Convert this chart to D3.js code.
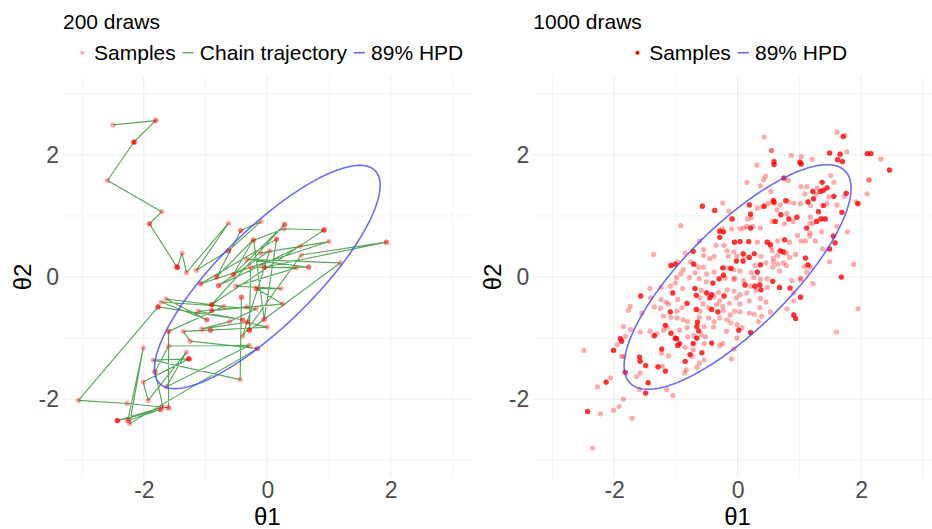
<!DOCTYPE html>
<html>
<head>
<meta charset="utf-8">
<script src="https://cdn.jsdelivr.net/npm/d3@7"></script>
<style>
  body { margin: 0; background: #ffffff; }
  text { font-family: "Liberation Sans", Arial, sans-serif; }
</style>
</head>
<body>
<svg id="chart" width="932" height="529"></svg>
<script>
// ---- data -------------------------------------------------------------
const panelTitles = ["200 draws", "1000 draws"];
const axisTicks = [-2, 0, 2];
const gridValues = [-3, -2, -1, 0, 1, 2, 3];
const xLimits = [-3.31, 3.31];
const yLimits = [-3.29, 3.29];
const xTitle = "θ1";
const yTitle = "θ2";
const legendLeft = ["Samples", "Chain trajectory", "89% HPD"];
const legendRight = ["Samples", "89% HPD"];

// 89% highest posterior density region of the bivariate normal
const hpdLevel = 0.89;
const hpdLeft = { mean: [0.0, 0.0], sd: [0.87, 0.87], rho: 0.82 };
const hpdRight = { mean: [0.0, 0.0], sd: [0.875, 0.875], rho: 0.79 };

// Metropolis chain, 200 draws: [theta1, theta2, consecutive draws at that state]
const chain200 = [
  [-2.50, 2.49, 1], [-1.81, 2.56, 2], [-2.16, 2.21, 4], [-2.59, 1.58, 1], [-1.71, 1.07, 1],
  [-1.91, 0.87, 2], [-1.46, 0.16, 4], [-1.38, 0.39, 1], [-1.31, 0.07, 1], [-0.63, 0.88, 1],
  [-1.15, 0.11, 1], [-0.63, 0.43, 2], [-0.10, 0.91, 1], [-0.43, 0.76, 2], [-0.82, 0.00, 2],
  [-0.23, 0.61, 1], [-0.55, 0.04, 2], [0.28, 0.86, 2], [-0.90, -0.45, 3], [0.92, 0.77, 3],
  [0.27, 0.79, 1], [-0.22, 0.60, 1], [-0.05, -0.69, 2], [0.15, 0.62, 2], [-1.08, -0.11, 2],
  [1.00, 0.58, 1], [-0.11, 0.39, 1], [0.53, 0.50, 1], [-0.79, -0.14, 2], [0.04, 0.43, 1],
  [-0.40, -0.97, 1], [0.55, 0.36, 1], [1.93, 0.57, 2], [-0.05, 0.16, 2], [0.67, 0.16, 2],
  [-0.33, 0.29, 1], [1.18, 0.23, 1], [-0.29, -0.87, 3], [-0.27, 0.16, 1], [0.47, 0.15, 1],
  [-0.51, -0.15, 1], [0.22, -0.19, 1], [-0.18, -0.19, 2], [0.25, -0.44, 1], [-0.90, -0.55, 2],
  [-0.33, -0.49, 1], [-1.12, -0.56, 1], [-0.40, -0.70, 2], [-1.77, -0.49, 3], [-3.06, -2.02, 1],
  [-2.27, -2.07, 1], [-1.60, -2.14, 2], [-1.60, -0.89, 2], [-0.70, -0.48, 1], [-1.64, -0.36, 1],
  [-0.98, -0.70, 2], [-1.72, -0.41, 1], [-0.18, -0.52, 1], [-0.61, -0.73, 1], [-1.06, -0.85, 1],
  [-0.32, -0.74, 2], [0.00, -0.82, 1], [-0.92, -0.87, 2], [-1.36, -0.89, 1], [-1.25, -1.05, 1],
  [-0.16, -1.17, 2], [-2.23, -2.40, 1], [-2.01, -1.16, 1], [-2.26, -2.35, 2], [-1.73, -2.17, 2],
  [-2.43, -2.35, 4], [-1.69, -2.13, 1], [-1.82, -1.55, 2], [-1.60, -1.13, 1], [-0.29, -1.12, 1],
  [-1.64, -1.80, 1], [-1.31, -1.23, 1], [-1.93, -2.02, 1], [-2.01, -1.72, 1], [-1.27, -1.34, 4],
  [-1.85, -1.36, 1], [-0.44, -1.68, 1], [-0.42, -0.33, 2]
];

// 1000 draws: [theta1, theta2, draws at that state]
const draws1000 = [
  [0.43, 2.29, 1], [1.61, 2.37, 1], [1.71, 2.30, 4], [1.74, 2.32, 1], [0.55, 2.07, 2],
  [1.49, 2.03, 4], [1.66, 2.01, 4], [1.77, 2.05, 1], [2.10, 2.02, 4], [2.16, 2.02, 4],
  [2.32, 1.93, 1], [2.46, 1.75, 4], [0.87, 1.99, 1], [1.03, 1.97, 1], [0.59, 1.89, 4],
  [0.59, 1.84, 4], [1.01, 1.88, 4], [1.03, 1.85, 4], [1.21, 1.93, 1], [0.31, 1.83, 1],
  [1.62, 1.92, 4], [1.70, 1.89, 4], [0.45, 1.65, 1], [0.42, 1.59, 1], [0.75, 1.62, 4],
  [0.82, 1.58, 1], [0.15, 1.55, 1], [0.37, 1.49, 1], [2.13, 1.60, 1], [2.13, 1.58, 1],
  [1.37, 1.55, 4], [1.56, 1.55, 1], [1.51, 1.66, 1], [1.29, 1.46, 1], [1.34, 1.40, 4],
  [1.39, 1.42, 4], [1.45, 1.46, 4], [1.22, 1.40, 4], [1.12, 1.48, 1], [1.03, 1.48, 1],
  [1.09, 1.36, 1], [1.48, 1.31, 1], [1.56, 1.32, 4], [1.76, 1.37, 4], [1.73, 1.32, 1],
  [0.54, 1.40, 1], [2.10, 1.36, 1], [1.92, 1.23, 1], [1.95, 1.20, 4], [-0.57, 1.16, 4],
  [-0.37, 1.09, 4], [-0.24, 1.21, 1], [-0.14, 1.08, 1], [0.19, 1.18, 4], [0.32, 1.13, 1],
  [0.40, 1.15, 1], [0.43, 1.16, 4], [0.50, 1.20, 1], [0.58, 1.25, 4], [0.59, 1.22, 4],
  [0.78, 1.25, 4], [0.83, 1.23, 1], [0.69, 1.18, 1], [0.91, 1.21, 1], [1.02, 1.20, 1],
  [1.14, 1.23, 4], [1.18, 1.17, 1], [1.23, 1.28, 4], [1.27, 1.35, 1], [1.39, 1.17, 4],
  [1.45, 1.20, 1], [1.61, 1.18, 1], [1.31, 1.07, 4], [1.69, 1.06, 4], [0.64, 1.10, 1],
  [0.70, 1.02, 4], [0.80, 1.04, 1], [0.83, 0.95, 4], [0.96, 0.98, 4], [0.90, 0.91, 1],
  [0.76, 0.87, 1], [1.18, 0.98, 1], [1.17, 0.88, 1], [1.28, 0.91, 4], [1.35, 0.95, 4],
  [1.42, 0.95, 4], [1.22, 0.88, 1], [0.21, 1.03, 4], [0.22, 0.97, 1], [0.16, 0.95, 1],
  [-0.09, 0.95, 4], [0.56, 0.91, 1], [0.61, 0.91, 4], [-0.92, 0.84, 1], [0.10, 0.80, 1],
  [0.15, 0.83, 1], [0.21, 0.80, 4], [0.37, 0.80, 1], [0.25, 0.83, 1], [0.04, 0.79, 1],
  [-0.25, 0.79, 1], [-0.10, 0.79, 1], [1.12, 0.80, 4], [1.61, 0.83, 1],
  [-0.29, 0.75, 4], [-0.23, 0.74, 4], [1.36, 0.74, 1], [1.78, 0.74, 1],
  [-0.62, 0.59, 1], [-0.29, 0.65, 4], [-0.05, 0.57, 4], [0.04, 0.58, 4], [0.18, 0.58, 4],
  [0.32, 0.57, 1], [-0.35, 0.52, 1], [-0.22, 0.52, 1], [0.48, 0.57, 4], [0.53, 0.53, 4],
  [0.54, 0.49, 1], [0.65, 0.59, 1], [0.76, 0.61, 4], [0.84, 0.57, 1], [0.97, 0.68, 1],
  [1.03, 0.59, 1], [1.10, 0.59, 1], [1.17, 0.67, 1], [1.26, 0.59, 1], [1.17, 0.72, 1],
  [1.55, 0.67, 4], [1.58, 0.56, 4], [1.49, 0.46, 4], [1.38, 0.46, 1],
  [-0.55, 0.45, 1], [-0.72, 0.42, 4], [-0.85, 0.39, 1], [-1.36, 0.37, 1], [-0.17, 0.43, 1],
  [-0.06, 0.41, 1], [0.09, 0.38, 4], [0.19, 0.32, 4], [0.27, 0.38, 4], [0.38, 0.34, 1],
  [0.56, 0.43, 1], [0.69, 0.43, 4], [0.74, 0.41, 4], [0.79, 0.39, 1], [0.84, 0.32, 1],
  [0.65, 0.35, 1], [0.58, 0.31, 1], [0.94, 0.37, 1], [-0.38, 0.34, 1], [-0.55, 0.35, 1],
  [-0.45, 0.30, 1], [-0.15, 0.34, 1], [-0.01, 0.34, 1],
  [-0.97, 0.25, 1], [-1.08, 0.19, 4], [-1.01, 0.21, 4], [-0.71, 0.21, 4], [-0.76, 0.25, 1],
  [-0.88, 0.12, 1], [-0.63, 0.16, 1], [-0.55, 0.16, 1], [-0.24, 0.15, 4], [-0.17, 0.15, 1],
  [-0.11, 0.14, 4], [-0.06, 0.12, 1], [-0.02, 0.26, 4], [0.09, 0.26, 4], [0.11, 0.34, 1],
  [0.28, 0.19, 1], [0.37, 0.20, 4], [0.46, 0.23, 1], [0.58, 0.25, 1], [0.65, 0.21, 1],
  [0.74, 0.23, 1], [0.79, 0.19, 1], [0.57, 0.16, 1], [0.68, 0.10, 1], [1.10, 0.31, 4],
  [1.14, 0.20, 4], [1.08, 0.17, 1], [1.18, 0.16, 1], [1.49, 0.25, 1], [1.88, 0.21, 1],
  [1.68, 0.00, 4], [1.02, -0.02, 1], [1.12, 0.08, 1],
  [-0.69, 0.07, 1], [-0.50, 0.05, 1], [-0.92, 0.05, 1], [-0.99, -0.01, 1], [-0.38, 0.08, 1],
  [-0.30, -0.03, 4], [-0.23, 0.03, 4], [-0.20, -0.02, 1], [-0.05, -0.02, 1], [0.04, 0.10, 1],
  [0.22, 0.07, 1], [0.32, 0.08, 4], [0.26, -0.01, 1], [0.37, -0.04, 1], [-0.62, -0.03, 1],
  [-0.78, -0.01, 1], [-0.40, -0.10, 4], [-0.51, -0.08, 1], [-0.06, -0.04, 1], [0.10, -0.06, 1],
  [0.12, -0.13, 4], [0.21, -0.15, 1], [0.28, -0.15, 4], [0.36, -0.13, 4], [0.48, -0.03, 1],
  [0.57, -0.07, 4], [0.88, -0.06, 1], [1.02, -0.04, 1], [1.22, -0.11, 1], [0.85, -0.18, 4],
  [0.68, -0.17, 4], [0.48, -0.17, 1],
  [-1.01, -0.10, 1], [-1.09, -0.15, 1], [-1.24, -0.17, 1], [-1.05, -0.26, 4], [-0.89, -0.19, 1],
  [-0.69, -0.19, 4], [-0.59, -0.22, 1], [-0.67, -0.30, 4], [-0.50, -0.26, 4], [-0.42, -0.29, 4],
  [-0.38, -0.32, 1], [-0.45, -0.34, 4], [-0.31, -0.25, 1], [-0.22, -0.31, 4], [-0.17, -0.21, 1],
  [-0.06, -0.23, 1], [-0.02, -0.34, 1], [0.04, -0.29, 1], [0.15, -0.26, 1], [0.30, -0.22, 1],
  [0.38, -0.21, 4], [0.19, -0.39, 1], [0.37, -0.35, 1], [0.46, -0.41, 1], [0.36, -0.50, 1],
  [0.04, -0.44, 1], [-0.13, -0.43, 1], [-1.42, -0.19, 1], [-1.57, -0.31, 4], [-1.41, -0.34, 1],
  [-1.24, -0.37, 1], [-1.16, -0.41, 1], [-1.12, -0.44, 1], [-0.97, -0.37, 1], [-0.82, -0.43, 4],
  [-0.61, -0.34, 1], [-0.29, -0.39, 1], [-0.24, -0.48, 1], [-0.34, -0.45, 1], [-0.56, -0.44, 1],
  [0.91, -0.26, 1], [1.02, -0.33, 4], [0.91, -0.39, 1],
  [-1.74, -0.48, 1], [-1.77, -0.55, 1], [-1.55, -0.59, 1], [-1.35, -0.49, 1], [-1.25, -0.51, 1],
  [-1.09, -0.57, 4], [-0.98, -0.56, 1], [-0.90, -0.50, 1], [-0.67, -0.53, 4], [-0.61, -0.56, 1],
  [-0.47, -0.50, 1], [-0.42, -0.53, 4], [-0.32, -0.57, 4], [-0.23, -0.55, 1], [-0.12, -0.62, 1],
  [-0.05, -0.56, 1], [0.04, -0.57, 1], [0.19, -0.59, 1], [0.27, -0.61, 1], [0.53, -0.57, 1],
  [0.91, -0.62, 4], [0.94, -0.68, 4], [0.80, -0.52, 1], [0.39, -0.64, 1], [0.34, -0.73, 1],
  [-1.85, -0.81, 1], [-1.58, -0.90, 1], [-1.20, -0.64, 1], [-1.08, -0.66, 1], [-0.98, -0.67, 1],
  [-0.88, -0.70, 1], [-0.81, -0.73, 1], [-0.62, -0.66, 1], [-0.65, -0.74, 4], [-0.47, -0.67, 1],
  [-0.38, -0.73, 1], [-0.29, -0.67, 1], [-0.17, -0.70, 1], [-0.11, -0.75, 1], [-0.01, -0.78, 1],
  [0.07, -0.83, 1], [-1.17, -0.79, 4], [-1.14, -0.83, 1], [-0.82, -0.83, 1], [-0.66, -0.81, 4],
  [-0.63, -0.88, 4], [-0.54, -0.81, 1], [-0.39, -0.82, 1], [-0.18, -0.89, 1], [-1.42, -0.89, 1],
  [-1.31, -0.93, 1], [1.60, -0.90, 1], [1.95, -0.52, 1],
  [-1.73, -0.86, 1], [-1.20, -0.87, 1], [-0.94, -0.87, 1], [0.02, -0.87, 4], [-0.59, -0.94, 1],
  [0.21, -0.91, 4], [-1.35, -0.96, 4], [-1.08, -0.92, 4], [-1.01, -1.00, 4], [-0.99, -1.01, 4],
  [-0.81, -0.98, 1], [-0.71, -0.96, 1], [-0.66, -1.00, 4], [-0.52, -0.98, 1], [-1.82, -0.97, 1],
  [-1.90, -1.01, 4], [-1.88, -1.05, 4], [-1.95, -1.11, 1], [-2.01, -1.20, 4], [-2.49, -1.20, 1],
  [-1.23, -1.18, 4], [-1.23, -1.25, 1], [-1.12, -1.29, 1], [-0.97, -1.12, 4], [-0.94, -1.09, 4],
  [-0.85, -1.15, 1], [-0.72, -1.09, 4], [-0.72, -1.19, 1], [-0.54, -1.09, 1], [-0.42, -1.08, 4],
  [-0.29, -1.12, 1], [-0.24, -1.09, 1], [-0.06, -1.18, 1], [-0.01, -1.00, 1], [-1.88, -1.30, 1],
  [-1.84, -1.30, 1], [-1.59, -1.31, 4], [-1.58, -1.38, 4], [-1.49, -1.45, 4], [-1.29, -1.47, 4],
  [-1.22, -1.46, 1], [-1.17, -1.54, 4], [-0.77, -1.27, 4], [-0.74, -1.30, 1], [-0.58, -1.24, 4],
  [-0.85, -1.38, 4], [-0.62, -1.41, 1], [-0.54, -1.36, 1], [-0.66, -1.48, 1], [-0.83, -1.52, 1],
  [-0.86, -1.57, 1], [-0.10, -1.34, 1], [-1.82, -1.56, 4], [-1.58, -1.57, 1], [-1.64, -1.63, 1],
  [-2.06, -1.65, 1], [-2.13, -1.72, 4], [-2.27, -1.80, 1], [-1.45, -1.73, 4], [-1.59, -1.84, 1],
  [-1.49, -1.90, 4], [-1.15, -1.84, 1], [-1.05, -1.94, 1], [-1.85, -2.00, 1], [-2.43, -2.20, 4],
  [-2.22, -2.24, 1], [-2.01, -2.18, 1], [-1.92, -2.12, 1], [-1.71, -2.31, 1], [-2.35, -2.80, 1]
];

// ---- styles -----------------------------------------------------------
const sampleColor = "#ff0000";
const sampleAlpha = 0.33;
const pointRadius = 2.6;
const chainColor = "#228b22";
const hpdColor = "#4646ff";
const gridMajor = "#ebebeb";
const gridMinor = "#f1f1f1";
const tickColor = "#4d4d4d";

// ---- layout -----------------------------------------------------------
const svg = d3.select("#chart");
const panels = [
  { title: panelTitles[0], left: 63, top: 76, width: 408.6, height: 402,
    legend: legendLeft, hpd: hpdLeft, legendCenter: 268.5 },
  { title: panelTitles[1], left: 533.3, top: 76, width: 408.6, height: 402,
    legend: legendRight, hpd: hpdRight, legendCenter: 738 }
];

// expand a [theta1, theta2, n] list into individual draws
function expand(rows) {
  const out = [];
  rows.forEach(r => { for (let i = 0; i < r[2]; i++) out.push([r[0], r[1]]); });
  return out;
}

// points of the HPD ellipse of a correlated bivariate normal
function hpdEllipse(h) {
  const r = Math.sqrt(-2 * Math.log(1 - hpdLevel));
  const s = Math.sqrt(1 - h.rho * h.rho);
  return d3.range(0, 361, 2).map(deg => {
    const t = deg * Math.PI / 180;
    return [h.mean[0] + r * h.sd[0] * Math.cos(t),
            h.mean[1] + r * h.sd[1] * (h.rho * Math.cos(t) + s * Math.sin(t))];
  });
}

panels.forEach((p, i) => {
  const x = d3.scaleLinear().domain(xLimits).range([p.left, p.left + p.width]);
  const y = d3.scaleLinear().domain(yLimits).range([p.top + p.height, p.top]);
  const g = svg.append("g");

  const clipId = "clip" + i;
  svg.append("clipPath").attr("id", clipId)
    .append("rect").attr("x", p.left).attr("y", p.top)
    .attr("width", p.width).attr("height", p.height);

  // grid
  const grid = g.append("g");
  grid.selectAll("line.v").data(gridValues).join("line")
    .attr("x1", d => x(d)).attr("x2", d => x(d))
    .attr("y1", p.top).attr("y2", p.top + p.height)
    .attr("stroke", d => d % 2 === 0 ? gridMajor : gridMinor)
    .attr("stroke-width", d => d % 2 === 0 ? 1 : 0.8);
  grid.selectAll("line.h").data(gridValues).join("line")
    .attr("y1", d => y(d)).attr("y2", d => y(d))
    .attr("x1", p.left).attr("x2", p.left + p.width)
    .attr("stroke", d => d % 2 === 0 ? gridMajor : gridMinor)
    .attr("stroke-width", d => d % 2 === 0 ? 1 : 0.8);

  const plot = g.append("g").attr("clip-path", `url(#${clipId})`);

  if (i === 0) {
    const draws = expand(chain200);
    plot.append("path")
      .attr("d", d3.line().x(d => x(d[0])).y(d => y(d[1]))(draws))
      .attr("fill", "none").attr("stroke", chainColor)
      .attr("stroke-opacity", 0.75).attr("stroke-width", 1.15)
      .attr("stroke-linejoin", "round");
    plot.selectAll("circle").data(draws).join("circle")
      .attr("cx", d => x(d[0])).attr("cy", d => y(d[1])).attr("r", pointRadius)
      .attr("fill", sampleColor).attr("fill-opacity", sampleAlpha);
  } else {
    const draws = expand(draws1000);
    plot.selectAll("circle").data(draws).join("circle")
      .attr("cx", d => x(d[0])).attr("cy", d => y(d[1])).attr("r", pointRadius)
      .attr("fill", sampleColor).attr("fill-opacity", sampleAlpha);
  }

  plot.append("path")
    .attr("d", d3.line().x(d => x(d[0])).y(d => y(d[1]))(hpdEllipse(p.hpd)))
    .attr("fill", "none").attr("stroke", hpdColor)
    .attr("stroke-opacity", 0.8).attr("stroke-width", 1.6);

  // axes
  const fmt = d => String(d);
  const xa = g.append("g").attr("transform", `translate(0,${p.top + p.height})`)
    .call(d3.axisBottom(x).tickValues(axisTicks).tickSize(0).tickPadding(4).tickFormat(fmt));
  const ya = g.append("g").attr("transform", `translate(${p.left},0)`)
    .call(d3.axisLeft(y).tickValues(axisTicks).tickSize(0).tickPadding(4).tickFormat(fmt));
  [xa, ya].forEach(a => {
    a.select(".domain").remove();
    a.selectAll("text").attr("font-size", 23).attr("fill", tickColor)
      .attr("font-family", "'Liberation Sans', Arial, sans-serif");
  });

  g.append("text").attr("x", p.left + p.width / 2).attr("y", 525)
    .attr("text-anchor", "middle").attr("font-size", 24).attr("fill", "#000")
    .text(xTitle);
  g.append("text")
    .attr("transform", `translate(${p.left - 32},${y(0)}) rotate(-90)`)
    .attr("text-anchor", "middle").attr("font-size", 24).attr("fill", "#000")
    .text(yTitle);

  // title
  g.append("text").attr("x", p.left).attr("y", 29)
    .attr("font-size", 21).attr("fill", "#000").text(p.title);

  // legend
  const lg = g.append("g");
  const keyY = 52.7;
  let cursor = 0;
  p.legend.forEach((label, k) => {
    const kind = label === "Samples" ? "point" : (label === "89% HPD" ? "hpd" : "chain");
    const keyCenter = k === 0 ? 0 : cursor + 12.4;
    if (kind === "point") {
      lg.append("circle").attr("cx", keyCenter).attr("cy", keyY).attr("r", 2)
        .attr("fill", sampleColor).attr("fill-opacity", i === 0 ? sampleAlpha : 1);
    } else {
      lg.append("line").attr("x1", keyCenter - 5.6).attr("x2", keyCenter + 5.6)
        .attr("y1", keyY).attr("y2", keyY)
        .attr("stroke", kind === "hpd" ? hpdColor : chainColor)
        .attr("stroke-opacity", kind === "hpd" ? 0.8 : 0.7)
        .attr("stroke-width", kind === "hpd" ? 1.6 : 1.4);
    }
    const t = lg.append("text").attr("x", keyCenter + 11.7).attr("y", keyY + 7.6)
      .attr("font-size", 21).attr("fill", "#000").text(label);
    cursor = keyCenter + 11.7 + t.node().getComputedTextLength();
  });
  const shift = p.legendCenter - (-8.6 + cursor) / 2;
  lg.attr("transform", `translate(${shift},0)`);
});
</script>
</body>
</html>
